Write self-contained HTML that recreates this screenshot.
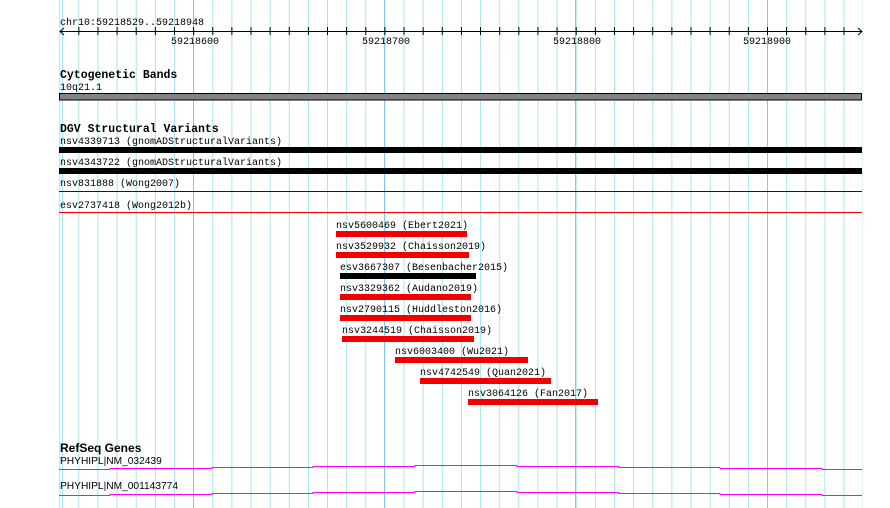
<!DOCTYPE html>
<html><head><meta charset="utf-8"><style>
html,body{margin:0;padding:0;background:#fff;}
svg{display:block}
text{font-family:"Liberation Mono","DejaVu Sans Mono",monospace;font-size:10px;fill:#000}
.h{font-weight:bold;font-size:11.5px}
.n{font-family:'Liberation Sans Narrow','Liberation Sans',sans-serif;font-size:10.2px}
</style></head><body>
<svg width="890" height="508" xmlns="http://www.w3.org/2000/svg">
<defs>
<pattern id="g" x="59.2" y="0" width="19.13" height="508" patternUnits="userSpaceOnUse">
<rect x="0" y="0" width="1" height="508" fill="#a8e6ee"/>
</pattern>
<pattern id="t" x="59.2" y="0" width="19.13" height="508" patternUnits="userSpaceOnUse">
<rect x="0" y="27" width="1" height="8" fill="#000"/>
</pattern>
</defs>
<rect x="59" y="0" width="804" height="508" fill="url(#g)"/>
<rect x="62" y="0" width="1" height="508" fill="#a8e6ee"/>
<g fill="#8cc4ea">
<rect x="193" y="0" width="1" height="508"/><rect x="384" y="0" width="1" height="508"/>
<rect x="575" y="0" width="1" height="508"/><rect x="767" y="0" width="1" height="508"/>
</g>
<text x="60" y="25">chr10:59218529..59218948</text>
<rect x="60" y="31" width="802" height="1" fill="#000"/>
<rect x="62" y="27" width="800" height="8" fill="url(#t)"/>
<path d="M64 28 L60 31.5 L64 35 M858 28 L862 31.5 L858 35" stroke="#000" fill="none"/>
<text x="171" y="44">59218600</text>
<text x="362" y="44">59218700</text>
<text x="553" y="44">59218800</text>
<text x="743" y="44">59218900</text>
<text class="h" x="60" y="78">Cytogenetic Bands</text>
<text x="60" y="90">10q21.1</text>
<rect x="59.5" y="93.5" width="802" height="6.5" fill="#858285" stroke="#000"/>
<text class="h" x="60" y="132">DGV Structural Variants</text>
<text x="60" y="144">nsv4339713 (gnomADStructuralVariants)</text>
<rect x="59" y="147" width="803" height="6" fill="#000"/>
<text x="60" y="165">nsv4343722 (gnomADStructuralVariants)</text>
<rect x="59" y="168" width="803" height="6" fill="#000"/>
<text x="60" y="186">nsv831888 (Wong2007)</text>
<rect x="59" y="191" width="803" height="1" fill="#0000e0"/>
<text x="60" y="208">esv2737418 (Wong2012b)</text>
<rect x="59" y="212" width="803" height="1" fill="#f00000"/>
<text x="336" y="228">nsv5600469 (Ebert2021)</text>
<rect x="336" y="231" width="131" height="6" fill="#f00000"/>
<text x="336" y="249">nsv3529932 (Chaisson2019)</text>
<rect x="336" y="252" width="133" height="6" fill="#f00000"/>
<text x="340" y="270">esv3667307 (Besenbacher2015)</text>
<rect x="340" y="273" width="136" height="6" fill="#000"/>
<text x="340" y="291">nsv3329362 (Audano2019)</text>
<rect x="340" y="294" width="131" height="6" fill="#f00000"/>
<text x="340" y="312">nsv2790115 (Huddleston2016)</text>
<rect x="340" y="315" width="131" height="6" fill="#f00000"/>
<text x="342" y="333">nsv3244519 (Chaisson2019)</text>
<rect x="342" y="336" width="132" height="6" fill="#f00000"/>
<text x="395" y="354">nsv6003400 (Wu2021)</text>
<rect x="395" y="357" width="133" height="6" fill="#f00000"/>
<text x="420" y="375">nsv4742549 (Quan2021)</text>
<rect x="420" y="378" width="131" height="6" fill="#f00000"/>
<text x="468" y="396">nsv3064126 (Fan2017)</text>
<rect x="468" y="399" width="130" height="6" fill="#f00000"/>
<text class="h" x="60" y="452" style="font-family:'Liberation Sans Narrow','Liberation Sans',sans-serif;font-size:12px">RefSeq Genes</text>
<text class="n" x="60" y="464">PHYHIPL|NM_032439</text>
<path d="M59 469.5 H110 V468.5 H212 V467.5 H313 V466.5 H415 V465.5 H517 V466.5 H619 V467.5 H720 V468.5 H822 V469.5 H862" stroke="#f0f" fill="none"/>
<text class="n" x="60" y="489">PHYHIPL|NM_001143774</text>
<path d="M59 495.5 H110 V494.5 H212 V493.5 H313 V492.5 H415 V491.5 H517 V492.5 H619 V493.5 H720 V494.5 H822 V495.5 H862" stroke="#f0f" fill="none"/>
</svg>
</body></html>
